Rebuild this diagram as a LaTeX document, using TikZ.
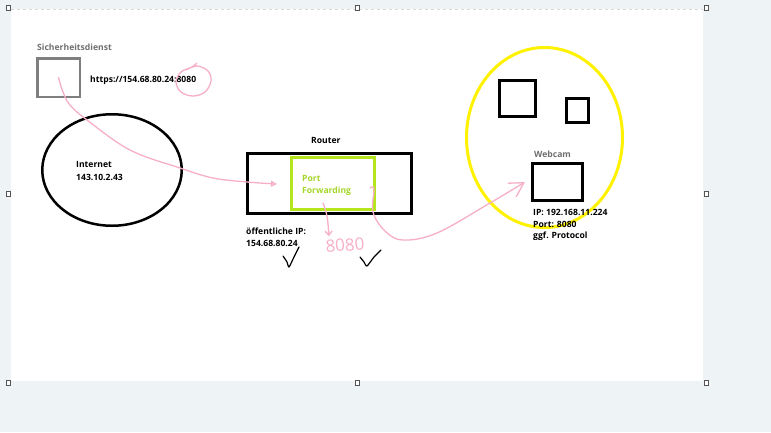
\documentclass[tikz,border=0pt]{standalone}
\usepackage{fontspec}
\setmainfont{Open Sans}
\usetikzlibrary{arrows.meta,shapes.geometric}
\definecolor{bgc}{HTML}{EEF3F6}
\definecolor{pinkc}{HTML}{F7AFC6}
\definecolor{greenc}{HTML}{B5E61D}
\definecolor{greentxt}{HTML}{A6D62A}
\definecolor{yellowc}{HTML}{FFF200}
\definecolor{greyc}{HTML}{7F7F7F}
\definecolor{greytxt}{HTML}{707070}
\definecolor{handlec}{HTML}{555555}
\tikzset{
  lbl/.style={font=\bfseries\fontsize{8.6}{10}\selectfont, anchor=west, inner sep=0pt},
  box/.style={draw=black, line width=3pt, rectangle, inner sep=0pt},
  pinkline/.style={draw=pinkc, line width=1.3pt, line cap=round, line join=round},
  checkline/.style={draw=black, line width=1.2pt, line cap=round, line join=round},
  handle/.style={draw=handlec, fill=white, line width=0.9pt, minimum width=4pt, minimum height=4.5pt, inner sep=0pt, rectangle},
}
\begin{document}
\begin{tikzpicture}[x=1pt,y=-1pt]
\useasboundingbox (0,0) rectangle (771,432);
\fill[bgc] (0,0) rectangle (771,432);
\fill[white] (11,9) rectangle (703,381);
\draw[greyc!30, dashed, line width=0.5pt] (11,9.3) -- (703,9.3);
% handles
\foreach \hx/\hy [count=\i] in {8/8,357/8,706/8,8/194,706/194,8/383,357/383,706/383}
  \node[handle] (h\i) at (\hx,\hy) {};

% Sicherheitsdienst
\node[lbl, text=greytxt] (sectxt) at (37,47) {Sicherheitsdienst};
\node[draw=greyc, line width=2.5pt, rectangle, inner sep=0pt, minimum width=42.5pt, minimum height=38.5pt] (sec) at (58.5,77.5) {};
\node[lbl] (url) at (90,80) {https://154.68.80.24:8080};

% Internet
\node[ellipse, draw=black, line width=2.5pt, inner sep=0pt, minimum width=139.5pt, minimum height=111.5pt] (inet) at (112,170) {};
\node[lbl] (inettxt) at (76,164) {Internet};
\node[lbl] (inetip) at (76,177) {143.10.2.43};

% Router
\node[lbl] (routertxt) at (311,140) {Router};
\node[box, minimum width=164pt, minimum height=60pt] (router) at (329.5,183.5) {};
\node[draw=greenc, line width=3pt, rectangle, inner sep=0pt, minimum width=83pt, minimum height=52pt] (pf) at (333,183.5) {};
\node[lbl, text=greentxt] (pf1) at (302,178) {Port};
\node[lbl, text=greentxt] (pf2) at (302,191) {Forwarding};
\node[lbl] (pubip1) at (246,231) {öffentliche IP:};
\node[lbl] (pubip2) at (246,243) {154.68.80.24};

% Webcam group
\node[ellipse, draw=yellowc, line width=3pt, inner sep=0pt, minimum width=156pt, minimum height=180pt] (grp) at (544.5,137.5) {};
\node[box, minimum width=36pt, minimum height=36pt] (sq1) at (517.5,98.5) {};
\node[box, minimum width=22pt, minimum height=24pt] (sq2) at (577.5,110.5) {};
\node[lbl, text=greytxt] (camtxt) at (534,154) {Webcam};
\node[box, minimum width=50pt, minimum height=37pt] (cam) at (557.5,182) {};
\node[lbl] (camip) at (533,212) {IP: 192.168.11.224};
\node[lbl] (camport) at (533,224) {Port: 8080};
\node[lbl] (camproto) at (533,236) {ggf. Protocol};

% pink annotations
\coordinate (fwdin) at (277,184);
\coordinate (pfout) at (323,203);
\coordinate (pfhook) at (370,188);
\coordinate (camin) at (525,182);
\node[text=pinkc, font=\fontsize{17}{17}\selectfont, inner sep=0pt, rotate=4] (hand8080) at (345,245) {8080};

\draw[pinkline, -{Triangle[open, length=6pt, width=6pt]}]
  plot[smooth, tension=0.6] coordinates {(sec.center) (63,92) (70,105) (87,120) (130,150) (180,168) (213,178) (247,182) (fwdin)};
\draw[pinkline, -{Straight Barb[length=4pt, width=7pt]}]
  plot[smooth, tension=0.6] coordinates {(pfout) (327,216) (329,236)};
\draw[pinkline, -{Straight Barb[length=14pt, width=16pt]}]
  plot[smooth, tension=0.6] coordinates {(pfhook) (374,189) (373,212) (385,231) (403,240) (437,233) (490,203) (camin)};
\draw[pinkline]
  plot[smooth, tension=0.6] coordinates {(186,70) (197,66) (208,71) (211,81) (205,92) (193,96) (181,92) (176,82) (181,72) (192,67) (197,63)};

% check marks
\draw[checkline] plot[smooth, tension=0.4] coordinates {(283,256) (287,262) (289,267) (294,257) (299,247)};
\draw[checkline] plot[smooth, tension=0.4] coordinates {(360,257) (364,262) (367,266) (374,257) (381,250)};
\end{tikzpicture}
\end{document}
